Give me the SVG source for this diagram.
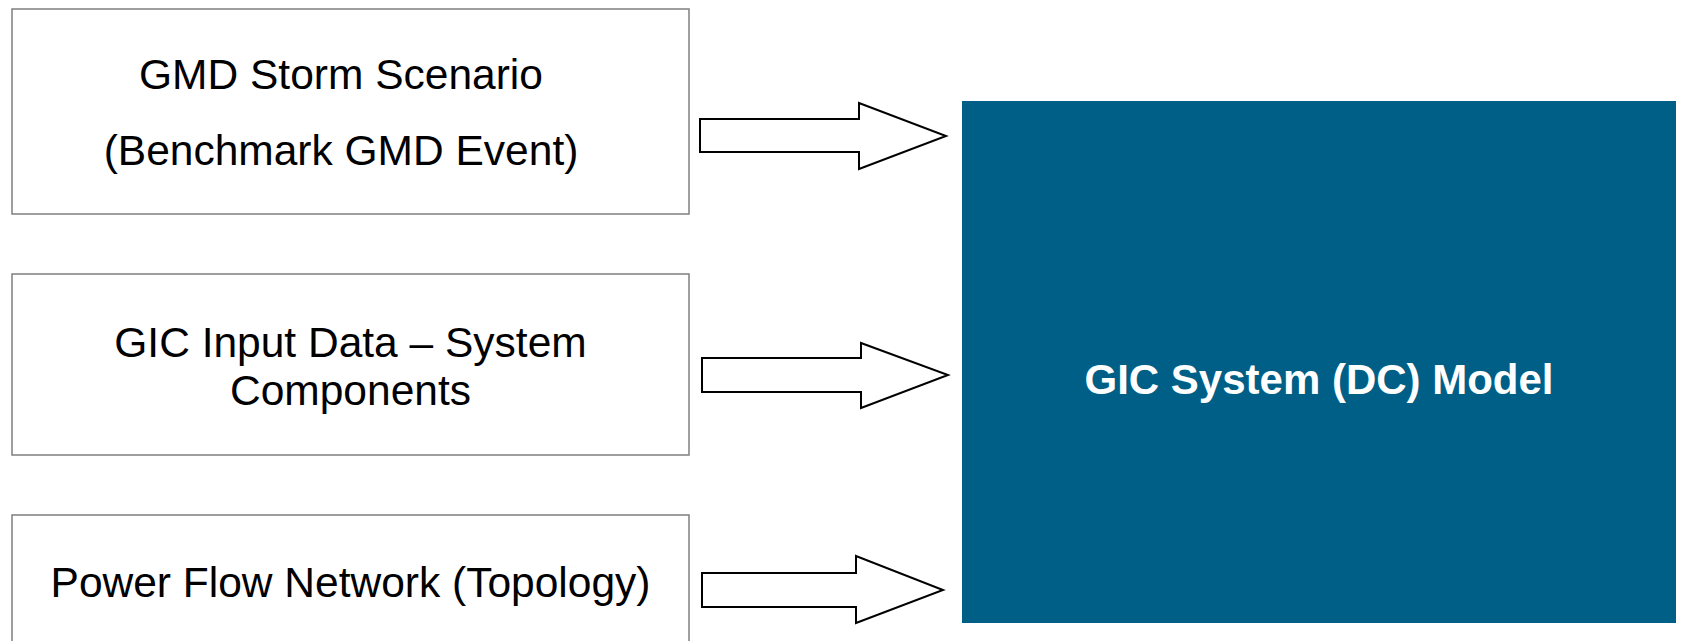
<svg xmlns="http://www.w3.org/2000/svg" width="1681" height="641" viewBox="0 0 1681 641">
<style>
.box{fill:#fff;stroke:#7f7f7f;stroke-width:1.5}
.t{font-family:"Liberation Sans",Arial,sans-serif;font-size:42.5px;fill:#000;text-anchor:middle}
.arrow{fill:#fff;stroke:#000;stroke-width:2;stroke-linejoin:miter}
.main{fill:#005f87}
.mt{font-family:"Liberation Sans",Arial,sans-serif;font-size:42px;font-weight:bold;fill:#fff;text-anchor:middle}
</style>
<rect width="1681" height="641" fill="#fff"/>
<g id="storm">
<rect class="box" x="12" y="9" width="677" height="205"/>
<text class="t" x="341" y="89">GMD Storm Scenario</text>
<text class="t" x="341" y="165">(Benchmark GMD Event)</text>
</g>
<g id="gicinput">
<rect class="box" x="12" y="274" width="677" height="181"/>
<text class="t" x="350.5" y="357">GIC Input Data – System</text>
<text class="t" x="350.5" y="405">Components</text>
</g>
<g id="powerflow">
<rect class="box" x="12" y="515" width="677" height="140"/>
<text class="t" x="350.5" y="597">Power Flow Network (Topology)</text>
</g>
<g id="model">
<rect class="main" x="962" y="101" width="714" height="522"/>
<text class="mt" x="1319" y="394">GIC System (DC) Model</text>
</g>
<g id="connectors">
<polygon class="arrow" points="700,119 859,119 859,103 946,136 859,169 859,152 700,152"/>
<polygon class="arrow" points="702,358 861,358 861,343 948,375 861,408 861,392 702,392"/>
<polygon class="arrow" points="702,573 856,573 856,556 943,590 856,623 856,607 702,607"/>
</g>
</svg>
